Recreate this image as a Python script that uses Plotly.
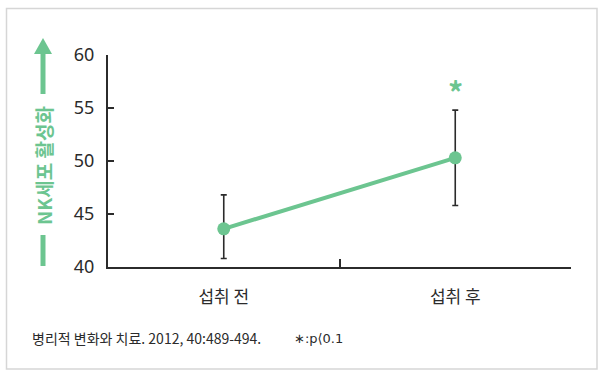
import plotly.graph_objects as go

categories = ["섭취 전", "섭취 후"]
means = [43.6, 50.3]
err_plus = [3.2, 4.5]
err_minus = [2.8, 4.5]
y_ticks = [40, 45, 50, 55, 60]
y_title = "NK세포 활성화"
footnote = "병리적 변화와 치료. 2012, 40:489-494."
sig_note = "∗:p⟨0.1"
sig_marks = ["", "*"]

GREEN = "#6cc590"
DARK = "#2b2b2b"
W, H = 600, 379
L, R, T, B = 108, 29, 55, 112
PW, PH = W - L - R, H - T - B


def px(x):
    return (x - L) / PW


def py(y):
    return (H - B - y) / PH


fig = go.Figure()
fig.add_trace(go.Scatter(
    x=categories, y=means, mode="lines+markers",
    line=dict(color=GREEN, width=4),
    marker=dict(color=GREEN, size=13),
    error_y=dict(type="data", symmetric=False, array=err_plus, arrayminus=err_minus,
                 color=DARK, thickness=1.6, width=3),
    showlegend=False, hoverinfo="skip",
))

shapes = [
    # frame
    dict(type="rect", xref="paper", yref="paper", x0=px(6.5), x1=px(597), y0=py(369), y1=py(8.5),
         line=dict(color="#d6d6d6", width=1.5), layer="below"),
    # arrow shaft top
    dict(type="line", xref="paper", yref="paper", x0=px(43), x1=px(43), y0=py(94), y1=py(52),
         line=dict(color=GREEN, width=5)),
    # arrow bottom bar
    dict(type="line", xref="paper", yref="paper", x0=px(43), x1=px(43), y0=py(266), y1=py(235),
         line=dict(color=GREEN, width=5)),
    # arrow head
    dict(type="path", xref="paper", yref="paper",
         path=f"M {px(34)},{py(54)} L {px(52)},{py(54)} L {px(43)},{py(38)} Z",
         fillcolor=GREEN, line=dict(color=GREEN, width=0)),
]

annotations = [
    dict(xref="paper", yref="paper", x=px(43), y=py(166), text=f"<b>{y_title}</b>", textangle=-90,
         showarrow=False, font=dict(family="Noto Sans CJK KR", size=19, color=GREEN),
         xanchor="center", yanchor="middle"),
    dict(xref="paper", yref="paper", x=px(30), y=py(338), text=footnote, showarrow=False,
         xanchor="left", yanchor="middle", font=dict(family="Noto Sans CJK KR", size=14, color=DARK)),
    dict(xref="paper", yref="paper", x=px(292), y=py(338), text=sig_note, showarrow=False,
         xanchor="left", yanchor="middle", font=dict(family="DejaVu Sans", size=13, color=DARK)),
]
for c, m, e, s in zip(categories, means, err_plus, sig_marks):
    if s:
        annotations.append(dict(x=c, y=m + e, xref="x", yref="y", text=f"<b>{s}</b>", showarrow=False,
                                yanchor="bottom", yshift=-5,
                                font=dict(family="Noto Sans CJK KR", size=30, color=GREEN)))

fig.update_layout(
    width=W, height=H, margin=dict(l=L, r=R, t=T, b=B),
    paper_bgcolor="white", plot_bgcolor="white",
    shapes=shapes, annotations=annotations,
    xaxis=dict(type="category", range=[-0.5, 1.5], showgrid=False, zeroline=False,
               showline=True, linecolor=DARK, linewidth=2,
               ticks="inside", tickson="boundaries", ticklen=8, tickwidth=2, tickcolor=DARK,
               tickfont=dict(family="Noto Sans CJK KR", size=17, color=DARK), ticklabelstandoff=14),
    yaxis=dict(range=[40, 60], tickvals=y_ticks, showgrid=False, zeroline=False,
               showline=True, linecolor=DARK, linewidth=2,
               ticks="inside", ticklen=6, tickwidth=1.5, tickcolor=DARK,
               tickfont=dict(family="Noto Sans", size=18, color=DARK), ticklabelstandoff=8),
)

fig.write_html("out.html")
